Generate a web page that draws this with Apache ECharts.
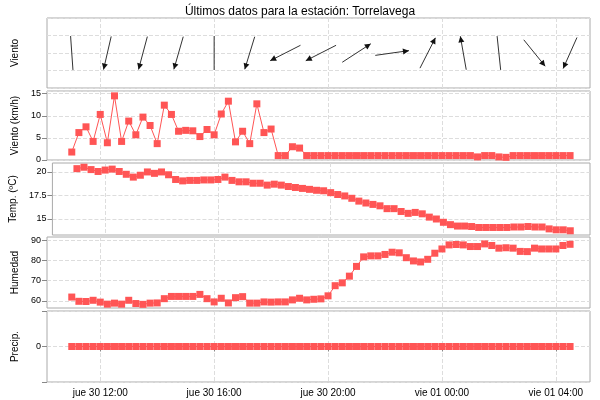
<!DOCTYPE html>
<html><head><meta charset="utf-8">
<script src="https://cdn.jsdelivr.net/npm/echarts@6/dist/echarts.min.js"></script>
<style>html,body{margin:0;padding:0;background:#fff}#c{width:600px;height:400px}</style>
</head><body><div id="c"></div>
<script>
const startHour = 11;
const stepHours = 0.25;
const windSpeed = [1.8,6.2,7.5,4.2,10.3,3.9,14.5,4.2,8.8,5.7,9.7,7.8,3.7,12.4,10.3,6.5,6.7,6.6,5.3,6.9,5.7,10.4,13.3,4.1,6.5,3.7,12.7,6.2,7.0,1.0,1.0,3.0,2.7,1,1,1,1,1,1,1,1,1,1,1,1,1,1,1,1,1,1,1,1,1,1,1,1,0.7,1,1,0.7,0.6,1,1,1,1,1,1,1,1,1];
const temperature = [20.35,20.5,20.25,20.05,20.2,20.3,20.05,19.75,19.45,19.65,20.0,19.85,20.0,19.7,19.2,19.05,19.1,19.1,19.15,19.15,19.2,19.45,19.1,18.95,18.95,18.8,18.8,18.6,18.7,18.6,18.45,18.35,18.25,18.15,18.05,18.0,17.8,17.6,17.45,17.2,16.9,16.7,16.55,16.4,16.1,16.1,15.8,15.6,15.7,15.55,15.2,15.0,14.65,14.4,14.25,14.25,14.2,14.1,14.1,14.1,14.1,14.1,14.15,14.15,14.2,14.15,14.15,13.95,13.85,13.85,13.75];
const humidity = [61.9,59.8,59.7,60.3,59.4,58.4,58.9,58.4,60.3,58.7,58.3,58.9,59.0,61.1,62.2,62.2,62.2,62.2,63.2,61.1,59.5,61.3,59.0,61.6,62.1,58.9,58.9,59.5,59.4,59.5,59.5,60.5,61.3,60.5,60.8,61.0,62.5,67.5,68.9,72.2,77.0,81.7,82.2,82.2,82.9,84.0,83.7,81.3,79.7,79.2,80.5,83.5,85.6,87.6,87.8,87.6,86.8,86.8,88.1,87.3,86.0,86.2,86.0,84.4,84.3,86.0,85.6,85.6,85.6,87.3,87.9];
const precipitation = new Array(71).fill(0);
const windDirIdx = [0,5,10,15,20,25,30,35,40,45,50,55,60,65,70];
const windDirTo = [176,193,195,196,180,197,243,243,57,82,27,350,174,141,204];
const windHead = [0,1,1,1,0,1,1,1,1,1,1,1,0,1,1];
const tickHours = [12,16,20,24,28];
const tickLabels = ['jue 30 12:00','jue 30 16:00','jue 30 20:00','vie 01 00:00','vie 01 04:00'];
const tempTicks = [15,17.5,20];
const humTicks = [60,70,80,90];

const times = windSpeed.map((_, i) => startHour + i*stepHours);
const xMin = 10.13, xMax = 29.2;
const fmt = v => { const k = tickHours.findIndex(h => Math.abs(h-v)<1e-6); return k>=0 ? tickLabels[k] : ''; };
const FONT = 'Liberation Sans';
const tops = [18, 91, 163, 237, 311];
const hts = [70, 69, 72, 71, 71];
const grid = tops.map((t,i)=>({left:47,right:10,top:t,height:hts[i],show:true,borderColor:'#aaa',borderWidth:1,backgroundColor:'#fff'}));
const split = {show:true,lineStyle:{color:'#ddd',type:'dashed'}};
const xAxis = tops.map((t,i)=>({type:'value',gridIndex:i,min:xMin,max:xMax,
  axisLine:{show:false},axisTick:{show:i===4,customValues:tickHours,lineStyle:{color:'#888'}},
  axisLabel:{show:i===4,customValues:tickHours,formatter:fmt,color:'#000',fontFamily:FONT,fontSize:10,margin:6},
  splitLine:split}));
const nameStyle = {color:'#000',fontFamily:FONT,fontSize:10};
const yBase = (i,name,extra)=>Object.assign({type:'value',gridIndex:i,name:name,nameLocation:'middle',nameGap:27,nameTextStyle:nameStyle,
  axisLine:{show:false},axisTick:{show:true,lineStyle:{color:'#888'}},axisLabel:{color:'#000',fontFamily:FONT,fontSize:9,margin:6},splitLine:split},extra);
const yAxis = [
  yBase(0,'Viento',{min:0,max:4,interval:1,axisLabel:{show:false},axisTick:{show:false}}),
  yBase(1,'Viento (km/h)',{min:0,max:15.6,interval:5}),
  yBase(2,'Temp. (ºC)',{min:13.3,max:20.95,axisLabel:{customValues:tempTicks,color:'#000',fontFamily:FONT,fontSize:9,margin:6},axisTick:{customValues:tempTicks,lineStyle:{color:'#888'}}}),
  yBase(3,'Humedad',{min:56.5,max:91.5,axisLabel:{customValues:humTicks,color:'#000',fontFamily:FONT,fontSize:9,margin:6},axisTick:{customValues:humTicks,lineStyle:{color:'#888'}}}),
  yBase(4,'Precip.',{min:-1,max:1,interval:1,axisLabel:{color:'#000',fontFamily:FONT,fontSize:9,margin:6,formatter:v=>v===0?'0':''}})
];
const RED = '#ff5555';
const mk = (i,arr)=>({type:'line',xAxisIndex:i,yAxisIndex:i,data:arr.map((v,k)=>[times[k],v]),symbol:'rect',symbolSize:7,
  lineStyle:{color:RED,width:1},itemStyle:{color:RED},animation:false});
const windData = windDirIdx.map((k,j)=>[times[k],2,windDirTo[j],windHead[j]]);
const windSeries = {type:'custom',xAxisIndex:0,yAxisIndex:0,data:windData,animation:false,
  renderItem:(params,api)=>{
    const c = api.coord([api.value(0),api.value(1)]);
    const a = api.value(2)*Math.PI/180, L=34;
    const ux=Math.sin(a), uy=-Math.cos(a);
    const x1=c[0]-ux*L/2, y1=c[1]-uy*L/2, x2=c[0]+ux*L/2, y2=c[1]+uy*L/2;
    const ch=[{type:'line',shape:{x1,y1,x2,y2},style:{stroke:'#333',lineWidth:1}}];
    if(api.value(3)){
      const h=6,w=3;
      const bx=x2-ux*h, by=y2-uy*h;
      ch.push({type:'polygon',shape:{points:[[x2,y2],[bx-uy*w,by+ux*w],[bx+uy*w,by-ux*w]]},style:{fill:'#111'}});
    }
    return {type:'group',children:ch};
  }};
const chart = echarts.init(document.getElementById('c'));
chart.setOption({animation:false,
  title:{text:'Últimos datos para la estación: Torrelavega',left:'center',top:1,textStyle:{fontFamily:FONT,fontSize:12,fontWeight:'normal',color:'#000'}},
  grid,xAxis,yAxis,
  series:[windSeries,mk(1,windSpeed),mk(2,temperature),mk(3,humidity),mk(4,precipitation)]});
</script></body></html>
